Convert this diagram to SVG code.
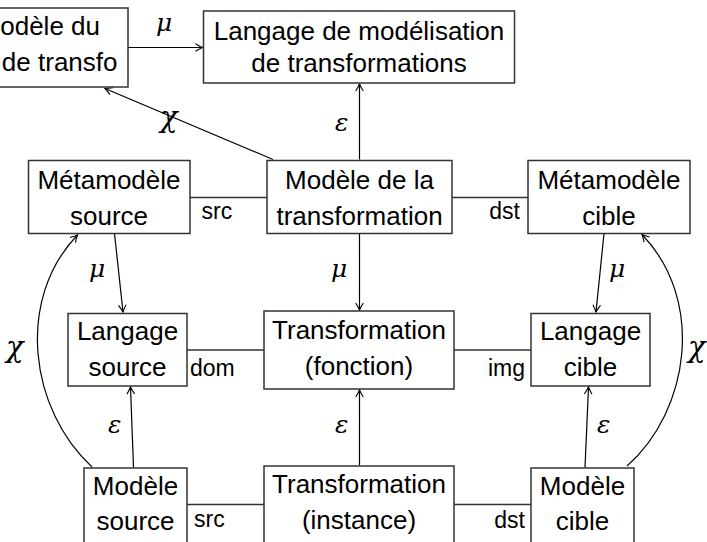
<svg xmlns="http://www.w3.org/2000/svg" width="707" height="542" viewBox="0 0 707 542">
<style>
.box{fill:#fff;stroke:#333;stroke-width:1.5}
.t{font-family:"Liberation Sans",Arial,sans-serif;font-size:26px;fill:#000;text-anchor:middle}
.l{font-family:"Liberation Sans",Arial,sans-serif;font-size:23px;fill:#000}
.g{font-family:"DejaVu Serif",serif;font-style:italic;font-size:25px;fill:#000}
.x{font-family:"DejaVu Serif",serif;font-style:italic;font-size:29px;fill:#000}
.c{fill:none;stroke:#000;stroke-width:1.2}
.p{fill:none;stroke:#333;stroke-width:1.5}
</style>
<defs>
<marker id="ah" markerUnits="userSpaceOnUse" markerWidth="12" markerHeight="10" viewBox="-8 -5 9 10" refX="0" refY="0" orient="auto">
<path d="M-7,-3.8 Q-2.5,-1 0,0 Q-2.5,1 -7,3.8" fill="none" stroke="#000" stroke-width="1.1"/>
</marker>
</defs>
<rect width="707" height="542" fill="#fff"/>
<g id="connectors">
<line class="c" x1="128" y1="47.5" x2="202.5" y2="47.5" marker-end="url(#ah)"/>
<line class="c" x1="273" y1="159.5" x2="105" y2="88.5" marker-end="url(#ah)"/>
<line class="c" x1="359.5" y1="159.5" x2="359.5" y2="84" marker-end="url(#ah)"/>
<line class="p" x1="190" y1="197.5" x2="267" y2="197.5"/>
<line class="p" x1="452" y1="197.5" x2="528" y2="197.5"/>
<line class="c" x1="114.5" y1="233.5" x2="123" y2="312" marker-end="url(#ah)"/>
<line class="c" x1="359.5" y1="233.5" x2="359.5" y2="310" marker-end="url(#ah)"/>
<line class="c" x1="604" y1="233.5" x2="596" y2="312" marker-end="url(#ah)"/>
<line class="p" x1="187" y1="350" x2="264" y2="350"/>
<line class="p" x1="454" y1="350" x2="531" y2="350"/>
<line class="c" x1="133.5" y1="467.5" x2="130.5" y2="387" marker-end="url(#ah)"/>
<line class="c" x1="359.5" y1="465.5" x2="359.5" y2="390" marker-end="url(#ah)"/>
<line class="c" x1="585" y1="467.5" x2="588.5" y2="387" marker-end="url(#ah)"/>
<line class="p" x1="187" y1="504.5" x2="264" y2="504.5"/>
<line class="p" x1="454" y1="504.5" x2="531" y2="504.5"/>
<path class="c" d="M92,467 C30,410 15,300 77.5,235" marker-end="url(#ah)"/>
<path class="c" d="M627,466 C690,410 705,300 642,234.5" marker-end="url(#ah)"/>
<text class="g" x="156" y="31">μ</text>
<text class="x" x="160" y="127">χ</text>
<text class="g" x="335" y="131">ε</text>
<text class="l" x="201.5" y="218.5">src</text>
<text class="l" x="520" y="218.5" text-anchor="end">dst</text>
<text class="g" x="89" y="277">μ</text>
<text class="g" x="331" y="277">μ</text>
<text class="g" x="609" y="277">μ</text>
<text class="l" x="190" y="375.5">dom</text>
<text class="l" x="525" y="375.5" text-anchor="end">img</text>
<text class="x" x="6" y="357">χ</text>
<text class="x" x="688" y="357">χ</text>
<text class="g" x="108" y="433">ε</text>
<text class="g" x="335" y="433">ε</text>
<text class="g" x="597" y="433">ε</text>
<text class="l" x="194" y="527">src</text>
<text class="l" x="525" y="528" text-anchor="end">dst</text>
</g>
<g id="n-modele-transfo">
<rect class="box" x="-5" y="8" width="133" height="79"/>
<text class="t" x="100" y="35" style="text-anchor:end">odèle du</text>
<text class="t" x="117.5" y="71" style="text-anchor:end">de transfo</text>
</g>
<g id="n-langage-modelisation">
<rect class="box" x="203.5" y="11" width="311" height="72"/>
<text class="t" x="359" y="39.5">Langage de modélisation</text>
<text class="t" x="359" y="71.5">de transformations</text>
</g>
<g id="n-metamodele-source">
<rect class="box" x="28.5" y="160.5" width="161.5" height="73"/>
<text class="t" x="109" y="188.5">Métamodèle</text>
<text class="t" x="109" y="224.5">source</text>
</g>
<g id="n-modele-transformation">
<rect class="box" x="267" y="160.5" width="185" height="73"/>
<text class="t" x="359.5" y="188.5">Modèle de la</text>
<text class="t" x="359.5" y="224.5">transformation</text>
</g>
<g id="n-metamodele-cible">
<rect class="box" x="528" y="160.5" width="162" height="73"/>
<text class="t" x="609" y="188.5">Métamodèle</text>
<text class="t" x="609" y="224.5">cible</text>
</g>
<g id="n-langage-source">
<rect class="box" x="68" y="313.5" width="119" height="72.5"/>
<text class="t" x="127.5" y="340">Langage</text>
<text class="t" x="127.5" y="376">source</text>
</g>
<g id="n-transformation-fonction">
<rect class="box" x="264" y="311" width="190" height="78"/>
<text class="t" x="359" y="338.5">Transformation</text>
<text class="t" x="359" y="374.5">(fonction)</text>
</g>
<g id="n-langage-cible">
<rect class="box" x="531" y="313.5" width="119" height="72.5"/>
<text class="t" x="590.5" y="340">Langage</text>
<text class="t" x="590.5" y="376">cible</text>
</g>
<g id="n-modele-source">
<rect class="box" x="84" y="468" width="103" height="80"/>
<text class="t" x="135.5" y="495">Modèle</text>
<text class="t" x="135.5" y="530">source</text>
</g>
<g id="n-transformation-instance">
<rect class="box" x="264" y="466" width="190" height="82"/>
<text class="t" x="359" y="493">Transformation</text>
<text class="t" x="359" y="529">(instance)</text>
</g>
<g id="n-modele-cible">
<rect class="box" x="531" y="468" width="103" height="80"/>
<text class="t" x="582.5" y="495">Modèle</text>
<text class="t" x="582.5" y="530">cible</text>
</g>
</svg>
